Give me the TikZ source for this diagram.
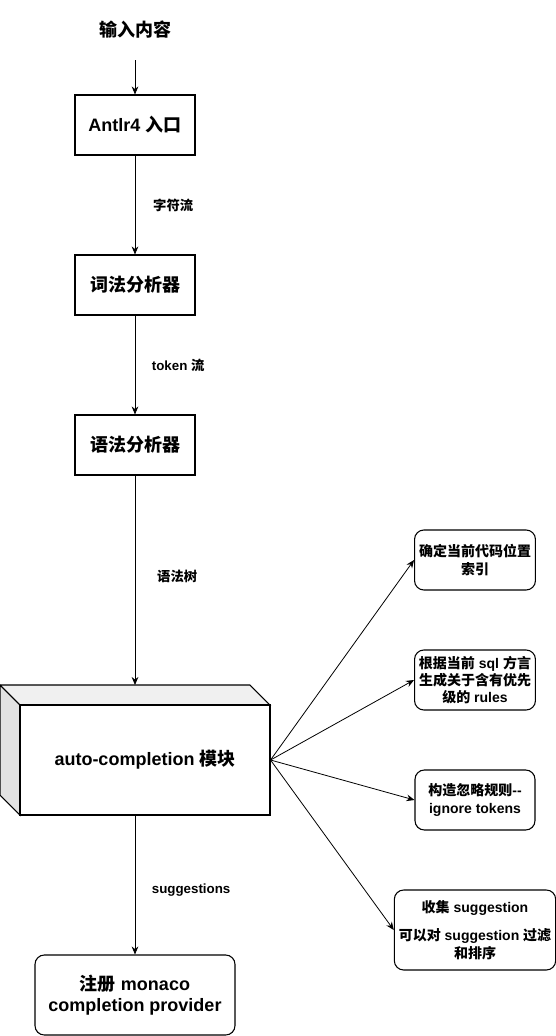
\documentclass[tikz,border=0pt]{standalone}
\usepackage{fontspec}
\setmainfont{Liberation Sans}
\newfontfamily\cjk{Noto Sans CJK SC}
\usepackage{tikz}
\usetikzlibrary{positioning,
				arrows.meta,
				calc}

\tikzset{
	flowbox/.style={draw, thick, fill=white, minimum width=90pt, minimum height=45pt, align=center, font=\fontsize{13.5}{16}\selectfont\bfseries},
	stepnote/.style={draw, thick, rounded corners=7pt, fill=white, minimum width=90pt, minimum height=45pt, align=center, font=\fontsize{10.5}{13}\selectfont\bfseries},
	flowlabel/.style={font=\fontsize{10}{12}\selectfont\bfseries},
	flowarrow/.style={semithick, -{Stealth[length=6pt,width=5pt]}}
}

\begin{document}
\begin{tikzpicture}[x=0.75pt, y=-0.75pt]
			\useasboundingbox (0,0) rectangle (556,1036);
			% main column
			\node[font=\fontsize{13.5}{16}\selectfont\bfseries] (input) at (135,30) {\cjk 输入内容};
			\node[flowbox] (antlr) at (135,125) {Antlr4 {\cjk 入口}};
			\node[flowbox] (lexer) at (135,285) {\cjk 词法分析器};
			\node[flowbox] (parser) at (135,445) {\cjk 语法分析器};
			% cube
			\draw[thick, fill=black!6] (0,685) -- (250,685) -- (270,705) -- (20,705) -- cycle;
			\draw[thick, fill=black!11] (0,685) -- (20,705) -- (20,815) -- (0,795) -- cycle;
			\node[draw, thick, fill=white, minimum width=187.5pt, minimum height=82.5pt, font=\fontsize{13.5}{16}\selectfont\bfseries] (auto) at (145,760) {auto-completion {\cjk 模块}};
			\coordinate (autotop) at (135,685);
			\coordinate (autobot) at (135,815);
			\node[flowbox, rounded corners=7pt, minimum width=150pt, minimum height=60pt] (monaco) at (135,995) {{\cjk 注册} monaco\\completion provider};
			% right column
			\node[stepnote] (index) at (475,560) {\cjk 确定当前代码位置\\\cjk 索引};
			\node[stepnote] (rules) at (475,680) {{\cjk 根据当前} sql {\cjk 方言}\\\cjk 生成关于含有优先\\{\cjk 级的} rules};
			\node[stepnote] (ignore) at (475,800) {{\cjk 构造忽略规则}-{}-\\ignore tokens};
			\node[stepnote, minimum width=120pt, minimum height=60pt] (collect) at (475,930) {{\cjk 收集} suggestion\\[8pt]{\cjk 可以对} suggestion {\cjk 过滤}\\\cjk 和排序};

			\draw[flowarrow] ($(input)+(0,30)$) -- (antlr);
			\draw[flowarrow] (antlr) -- node[flowlabel, right=10pt] {\cjk 字符流} (lexer);
			\draw[flowarrow] (lexer) -- node[flowlabel, right=9pt] {token {\cjk 流}} (parser);
			\draw[flowarrow] (parser) -- node[flowlabel, right=13pt, pos=0.48] {\cjk 语法树} (autotop);
			\draw[flowarrow] (autobot) -- node[flowlabel, right=9pt, pos=0.54] {suggestions} (monaco);
			\foreach \t in {index, rules, ignore, collect}
				\draw[flowarrow] (auto.east) -- (\t.west);
		\end{tikzpicture}
\end{document}
